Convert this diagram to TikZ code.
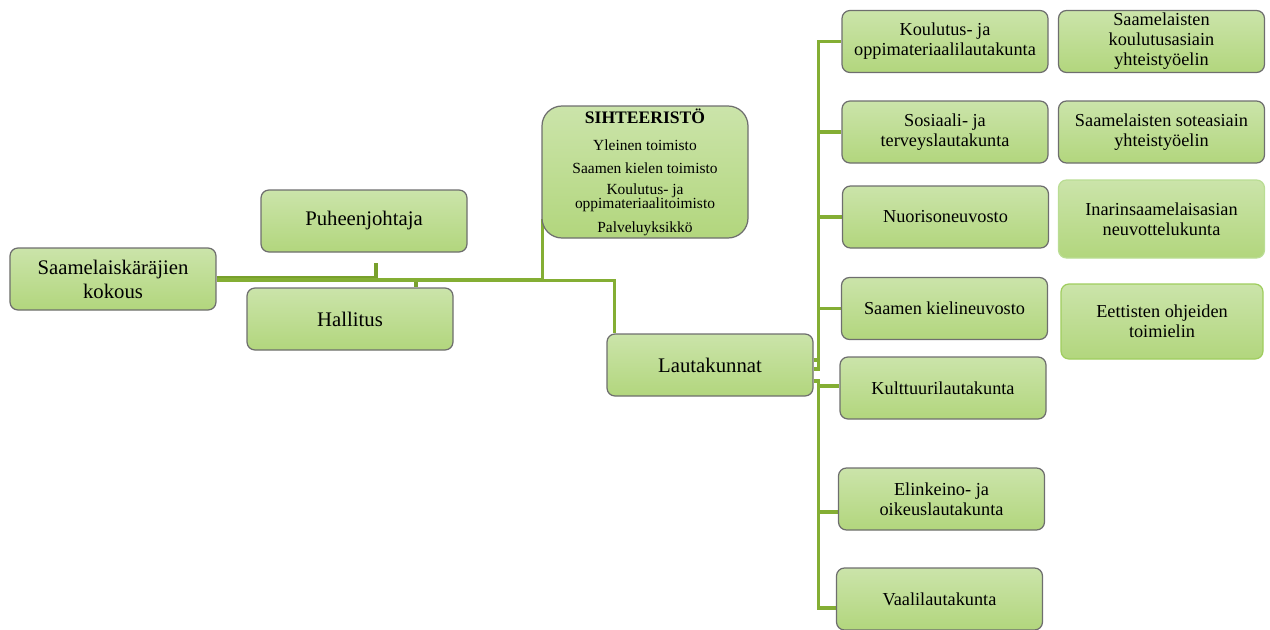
\documentclass[tikz,border=0pt]{standalone}
\usepackage{fontspec}
\setmainfont{Liberation Serif}
\usepackage{tikz}
\usetikzlibrary{backgrounds}
\definecolor{leaftop}{HTML}{CBE4AA}
\definecolor{leafbot}{HTML}{B2D67D}
\definecolor{rim}{HTML}{6E6E6E}
\definecolor{stem}{HTML}{84AE34}
\definecolor{darkstem}{HTML}{78A02C}
\definecolor{palerim}{HTML}{BADD94}
\definecolor{greenrim}{HTML}{9FCD5E}

\begin{document}
\begin{tikzpicture}[x=.2mm,y=-.2mm,
  unit/.style={draw=rim,line width=.7pt,top color=leaftop,bottom color=leafbot,rounded corners=1.6mm,
    minimum width=41.2mm,minimum height=12.4mm,align=center,inner sep=1pt},
  big/.style={font=\fontsize{11.8}{13.7}\selectfont},
  small/.style={font=\fontsize{10.4}{11.4}\selectfont},
  wire/.style={stem,line width=1.9pt}]
\useasboundingbox (0,0) rectangle (1270,630);
% assembly, chair, board
\node[unit,big] (kokous) at (113,279) {Saamelaiskäräjien\\kokous};
\node[unit,big] (puheen) at (364,221) {Puheenjohtaja};
\node[unit,big] (hallitus) at (350,319) {Hallitus};
% secretariat
\node[unit,rounded corners=4mm,minimum height=26.4mm,font=\fontsize{8.8}{8}\selectfont] (sihteeri) at (645,172)
  {{\bfseries\fontsize{10}{10}\selectfont SIHTEERISTÖ}\\[7.5pt]Yleinen toimisto\\[5pt]Saamen kielen toimisto\\[4pt]Koulutus- ja\\oppimateriaalitoimisto\\[5.5pt]Palveluyksikkö};
\node[unit,big] (lauta) at (710,365) {Lautakunnat};
% committees
\node[unit,small] (koul) at (945,41.5) {Koulutus- ja\\oppimateriaalilautakunta};
\node[unit,small] (sos) at (945,132) {Sosiaali- ja\\terveyslautakunta};
\node[unit,small] (nuor) at (945.5,217) {Nuorisoneuvosto};
\node[unit,small] (kieli) at (944.5,308.5) {Saamen kielineuvosto};
\node[unit,small] (kult) at (943,388) {Kulttuurilautakunta};
\node[unit,small] (elink) at (941.5,499) {Elinkeino- ja\\oikeuslautakunta};
\node[unit,small] (vaali) at (939.5,599) {Vaalilautakunta};
% cooperation bodies, no lines
\node[unit,small] (yhtkoul) at (1161.5,41.5) {Saamelaisten\\koulutusasiain\\yhteistyöelin};
\node[unit,small] (yhtsote) at (1161.5,132) {Saamelaisten soteasiain\\yhteistyöelin};
\node[unit,small,draw=palerim,minimum height=15.6mm] (inari) at (1161.5,219) {Inarinsaamelaisasian\\neuvottelukunta};
\node[unit,small,draw=greenrim,minimum width=40.4mm,minimum height=15mm] (eett) at (1162,321.5) {Eettisten ohjeiden\\toimielin};
% connectors behind the boxes
\begin{scope}[on background layer]
\draw[wire,darkstem] ([yshift=.2mm]kokous.east) -| ([shift={(12,10)}]puheen.south);
\draw[wire,darkstem] ([yshift=-.3mm]kokous.east) -| ([shift={(66,0)}]hallitus.north);
\draw[wire] ([yshift=-.2mm]kokous.east) -| ([shift={(1,-20)}]sihteeri.south west);
\draw[wire] ([yshift=-.3mm]kokous.east) -| ([shift={(8,0)}]lauta.north west);
\foreach \k/\t/\s in {koul/-5/0,sos/-5/0,nuor/-5/0,kieli/4/0,kult/16/-2,elink/16/13,vaali/16/9}
  \draw[wire] ([shift={(0,\t)}]lauta.east) -- ++(5,0) |- ([shift={(0,\s)}]\k.west);
\end{scope}
\end{tikzpicture}
\end{document}
